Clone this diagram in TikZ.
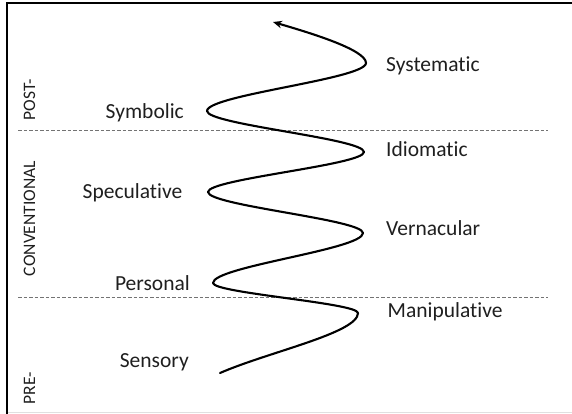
\documentclass[tikz,border=0pt]{standalone}
\usepackage{fontspec}
\setmainfont{Carlito}[Ligatures={NoCommon}]
\usetikzlibrary{arrows.meta}

\tikzset{
  stage/.style={font=\fontsize{21.5}{26}\selectfont, text=black!88, inner sep=0pt},
  era/.style={font=\fontsize{17.5}{21}\selectfont, text=black!88, inner sep=0pt, rotate=90, anchor=base},
  divider/.style={draw=black!55, line width=0.9pt, dash pattern=on 3.5pt off 2pt},
  wave/.style={line width=2.1pt, line cap=round, line join=round, -{Stealth[length=9pt,width=7.5pt]}},
}

\begin{document}
\begin{tikzpicture}[x=1pt, y=-1pt]
  \useasboundingbox (0,0) rectangle (572,414);

  % frame
  \draw[black!12, line width=1pt] (8,412) -- (572,412);
  \draw[black, line width=2.4pt] (7.2,414) -- (7.2,3.2) -- (572,3.2);

  % stage dividers
  \coordinate (d1a) at (18,130);  \coordinate (d1b) at (548,130);
  \coordinate (d2a) at (18,297);  \coordinate (d2b) at (548,297);
  \draw[divider] (d1a) -- (d1b);
  \draw[divider] (d2a) -- (d2b);

  % era labels
  \node[era] (post) at (35,100) {POST-};
  \node[era] (conv) at (35,218.5) {CONVENTIONAL};
  \node[era] (pre)  at (35,388) {PRE-};

  % turning points of the spiral
  \coordinate (s)  at (220,373);
  \coordinate (m)  at (358,313);
  \coordinate (p)  at (213,283);
  \coordinate (v)  at (363,233);
  \coordinate (sp) at (208,192);
  \coordinate (i)  at (364,152);
  \coordinate (sy) at (207,111);
  \coordinate (st) at (366,63);
  \coordinate (e)  at (273,22);

  \draw[wave] (s)
    .. controls +(48,-21)  and +(0,20)    .. (m)
    .. controls +(0,-10)   and +(0,10)    .. (p)
    .. controls +(0,-16.5) and +(0,16.5)  .. (v)
    .. controls +(0,-13.5) and +(0,13.5)  .. (sp)
    .. controls +(0,-13)   and +(0,13)    .. (i)
    .. controls +(0,-13.5) and +(0,13.5)  .. (sy)
    .. controls +(0,-16)   and +(0,16)    .. (st)
    .. controls +(0,-13.5) and +(35,10.3) .. (e);

  % stage labels
  \node[stage, anchor=base west] (lsyst) at (386,72)  {Systematic};
  \node[stage, anchor=base west] (lidio) at (386,157) {Idiomatic};
  \node[stage, anchor=base west] (lvern) at (386,235) {Vernacular};
  \node[stage, anchor=base west] (lmani) at (387.5,317.5) {Manipulative};
  \node[stage, anchor=base east] (lsymb) at (184,119) {Symbolic};
  \node[stage, anchor=base east] (lspec) at (182.5,198.5) {Speculative};
  \node[stage, anchor=base east] (lpers) at (190,290) {Personal};
  \node[stage, anchor=base east] (lsens) at (189,367) {Sensory};
\end{tikzpicture}
\end{document}
